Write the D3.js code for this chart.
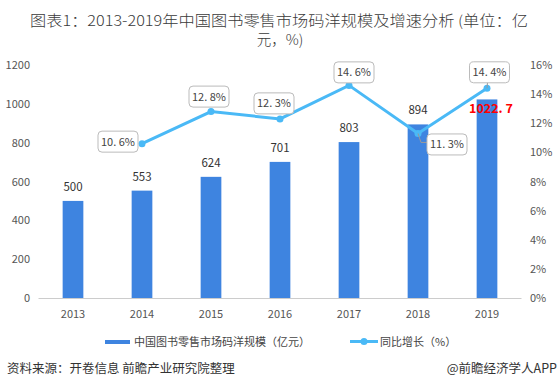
<!DOCTYPE html>
<html><head><meta charset="utf-8">
<script src="https://cdn.jsdelivr.net/npm/d3@7"></script>
<style>
body{margin:0;background:#fff;}
text{font-family:"Noto Sans CJK SC","Noto Sans",sans-serif;}
</style></head>
<body>
<svg id="chart" width="559" height="389"></svg>
<script>
const years = ["2013","2014","2015","2016","2017","2018","2019"];
const sizes = [500,553,624,701,803,894,1022.7];
const sizeLabels = ["500","553","624","701","803","894","1022. 7"];
const growth = [null,10.6,12.8,12.3,14.6,11.3,14.4];
const growthLabels = [null,"10. 6%","12. 8%","12. 3%","14. 6%","11. 3%","14. 4%"];
const leftTicks = [0,200,400,600,800,1000,1200];
const rightTicks = [0,2,4,6,8,10,12,14,16];

const svg = d3.select("#chart");
const barColor = "#3e84e0", lineColor = "#4ab9f6";

const x = d3.scaleBand().domain(years).range([38.5,521.5]).paddingInner(0.7).paddingOuter(0.35);
const yL = d3.scaleLinear().domain([0,1200]).range([298,65]);
const yR = d3.scaleLinear().domain([0,16]).range([298,65]);

// title
svg.append("text").attr("x",279).attr("y",26).attr("text-anchor","middle")
  .attr("font-size",14.5).attr("fill","#3a3a3a").attr("font-weight",300)
  .attr("textLength",498).attr("lengthAdjust","spacingAndGlyphs")
  .text("图表1：2013-2019年中国图书零售市场码洋规模及增速分析 (单位：亿");
svg.append("text").attr("x",280).attr("y",45).attr("text-anchor","middle")
  .attr("font-size",14.5).attr("fill","#3a3a3a").attr("font-weight",300).text("元，%)");

// axes
svg.append("g").attr("transform","translate(30,0)")
  .call(d3.axisLeft(yL).tickValues(leftTicks).tickFormat(d3.format("d")).tickSize(0).tickPadding(0))
  .call(g=>g.select(".domain").remove())
  .selectAll("text").attr("font-size",11).attr("fill","#555").attr("font-family","Roboto,sans-serif");
svg.append("g").attr("transform","translate(530,0)")
  .call(d3.axisRight(yR).tickValues(rightTicks).tickFormat(d=>d+"%").tickSize(0).tickPadding(0))
  .call(g=>g.select(".domain").remove())
  .selectAll("text").attr("font-size",11).attr("fill","#555").attr("font-family","Roboto,sans-serif");
svg.append("g").attr("transform","translate(0,298)")
  .call(d3.axisBottom(x).tickSize(0).tickPadding(12))
  .call(g=>g.select(".domain").attr("stroke","#ccc").attr("d","M38.5,0.5H521.5"))
  .selectAll("text").attr("font-size",11).attr("fill","#555").attr("font-family","Roboto,sans-serif");

// bars
svg.append("g").selectAll("rect").data(years).join("rect")
  .attr("x",d=>x(d)).attr("width",x.bandwidth())
  .attr("y",(d,i)=>yL(sizes[i])).attr("height",(d,i)=>yL(0)-yL(sizes[i]))
  .attr("fill",barColor);
svg.append("g").selectAll("text").data(years).join("text")
  .attr("x",(d,i)=>x(d)+x.bandwidth()/2+(i===6?4:0))
  .attr("y",(d,i)=>i===6 ? yL(sizes[i])+14 : yL(sizes[i])-10)
  .attr("text-anchor","middle").attr("font-size",(d,i)=>i===6?12.5:11.5)
  .attr("font-weight",(d,i)=>i===6?"bold":"normal")
  .attr("fill",(d,i)=>i===6?"#f00":"#333")
  .attr("font-family","Roboto,sans-serif")
  .text((d,i)=>sizeLabels[i]);

// line
const pts = years.map((d,i)=>({yr:d,v:growth[i],lab:growthLabels[i]})).filter(d=>d.v!==null);
const cx = d=>x(d.yr)+x.bandwidth()/2;
svg.append("path").datum(pts)
  .attr("d",d3.line().x(cx).y(d=>yR(d.v)))
  .attr("fill","none").attr("stroke",lineColor).attr("stroke-width",3);
svg.append("g").selectAll("circle").data(pts).join("circle")
  .attr("cx",cx).attr("cy",d=>yR(d.v)).attr("r",3.5).attr("fill",lineColor);

// label boxes: offset of box centre from point
const offs = {"2014":[-24,-2],"2015":[-2,-15],"2016":[-6,-15.5],"2017":[5,-13],"2018":[29,11],"2019":[2.5,-16]};
const lg = svg.append("g");
pts.forEach(d=>{
  const px = cx(d), py = yR(d.v);
  const [dx,dy] = offs[d.yr];
  const bx = px+dx, by = py+dy;
  if (d.yr==="2018") {
    lg.append("path").attr("d",`M${px},${py}L${px+3},${py+9}L${bx-20},${py+9}`)
      .attr("fill","none").attr("stroke","#999");
  } else if (d.yr==="2019") {
    lg.append("path").attr("d",`M${px},${py}L${bx-2},${by+10}`).attr("stroke","#999");
  }
  lg.append("rect").attr("x",bx-20).attr("y",by-10.5).attr("width",40).attr("height",21)
    .attr("rx",4).attr("fill","#fff").attr("stroke","#bbb");
  lg.append("text").attr("x",bx).attr("y",by+4).attr("text-anchor","middle")
    .attr("font-size",11).attr("fill","#444").attr("font-family","Roboto,sans-serif").text(d.lab);
});

// legend
svg.append("rect").attr("x",105).attr("y",340).attr("width",25).attr("height",4).attr("fill",barColor);
svg.append("text").attr("x",134).attr("y",346).attr("font-size",11).attr("fill","#444").text("中国图书零售市场码洋规模（亿元）");
svg.append("line").attr("x1",350).attr("x2",378).attr("y1",341.5).attr("y2",341.5).attr("stroke",lineColor).attr("stroke-width",3);
svg.append("circle").attr("cx",364).attr("cy",341.5).attr("r",3.5).attr("fill",lineColor);
svg.append("text").attr("x",380).attr("y",346).attr("font-size",11).attr("fill","#444").text("同比增长（%）");

// footer
svg.append("text").attr("x",7).attr("y",373).attr("font-size",12.5).attr("fill","#333").text("资料来源：开卷信息 前瞻产业研究院整理");
svg.append("text").attr("x",557).attr("y",373).attr("text-anchor","end").attr("font-size",12.5).attr("fill","#333").text("@前瞻经济学人APP");
</script>
</body></html>
